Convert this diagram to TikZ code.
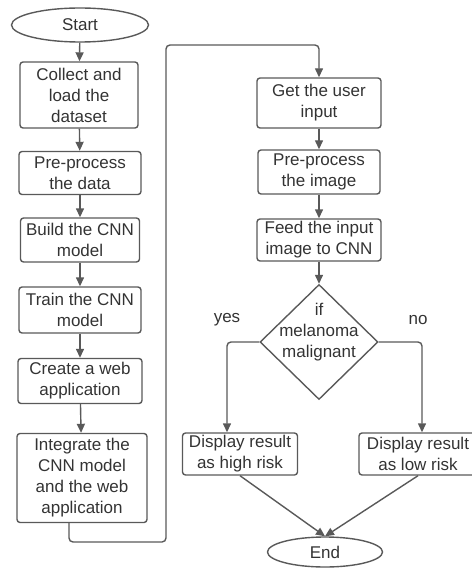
\documentclass[tikz,border=0pt]{standalone}
\usepackage{fontspec}
\setmainfont{Liberation Sans}
\usetikzlibrary{shapes.geometric,arrows.meta}

\definecolor{linegray}{HTML}{595959}
\definecolor{textgray}{HTML}{333333}

\tikzset{
  stepbox/.style={draw=linegray, line width=1.4pt, rounded corners=3pt, align=center,
    inner sep=1pt, text=textgray, font=\fontsize{17}{21}\selectfont},
  terminal/.style={draw=linegray, line width=1.4pt, ellipse, inner sep=0pt,
    text=textgray, font=\fontsize{17}{21}\selectfont},
  decision/.style={draw=linegray, line width=1.4pt, diamond, inner sep=0pt},
  arr/.style={draw=linegray, line width=1.4pt, rounded corners=4pt,
    -{Triangle[length=9pt,width=8pt]}},
  lbl/.style={text=textgray, font=\fontsize{17}{21}\selectfont}
}

\begin{document}
\begin{tikzpicture}[x=1pt, y=-1pt]
  \useasboundingbox (0,0) rectangle (471,577);

  % Left column: training
  \node[terminal, minimum width=137pt, minimum height=34pt] (start) at (80,25) {Start};
  \node[stepbox, minimum width=118pt, minimum height=66pt] (collect) at (79,95) {Collect and\\load the\\dataset};
  \node[stepbox, minimum width=122pt, minimum height=43pt] (prepdata) at (80,173) {Pre-process\\the data};
  \node[stepbox, minimum width=119pt, minimum height=44pt] (build) at (80,240) {Build the CNN\\model};
  \node[stepbox, minimum width=122pt, minimum height=46pt] (train) at (80,310) {Train the CNN\\model};
  \node[stepbox, minimum width=124pt, minimum height=45pt] (webapp) at (80,381) {Create a web\\application};
  \node[stepbox, minimum width=130pt, minimum height=89pt] (integ) at (82,478) {Integrate the\\CNN model\\and the web\\application};

  % Right column: prediction
  \node[stepbox, minimum width=124pt, minimum height=50pt] (getinput) at (319,103) {Get the user\\input};
  \node[stepbox, minimum width=122pt, minimum height=44pt] (prepimg) at (319,172) {Pre-process\\the image};
  \node[stepbox, minimum width=124pt, minimum height=42pt] (feed) at (319,240) {Feed the input\\image to CNN};
  \node[decision, minimum width=118pt, minimum height=115pt,
    label={[lbl, align=center, yshift=10pt]center:if\\melanoma\\malignant}] (decide) at (319,342) {};
  \node[stepbox, minimum width=115pt, minimum height=42pt] (high) at (240,454) {Display result\\as high risk};
  \node[stepbox, minimum width=118pt, minimum height=42pt] (low) at (418,454) {Display result\\as low risk};
  \node[terminal, minimum width=115pt, minimum height=30pt] (finish) at (325,552) {End};

  % Branch labels
  \node[lbl] (lblyes) at (227,320) {yes};
  \node[lbl] (lblno) at (418,320) {no};

  % Straight arrows
  \foreach \a/\b in {start/collect, collect/prepdata, prepdata/build, build/train,
      train/webapp, webapp/integ, getinput/prepimg, prepimg/feed, feed/decide} {
      \draw[arr] (\a) -- (\b);
    }

  % Loop from left column to right column
  \coordinate (loopa) at (166,542);
  \coordinate (loopb) at (166,45);
  \draw[arr] ([xshift=-13pt]integ.south) |- (loopa) -- (loopb) -| (getinput.north);

  % Decision branches
  \draw[arr] (decide.west) -| ([xshift=-13pt]high.north);
  \draw[arr] (decide.east) -| ([xshift=4pt]low.north);
  \draw[arr] (high.south) -- (finish.north);
  \draw[arr] (low.south) -- (finish.north);

\end{tikzpicture}
\end{document}
